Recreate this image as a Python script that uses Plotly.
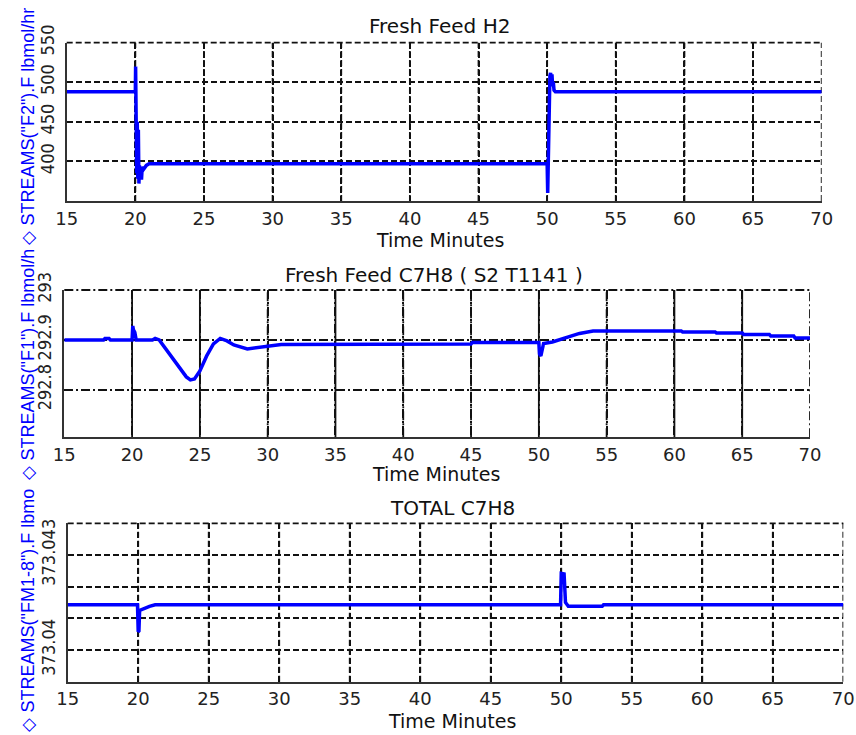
import plotly.graph_objects as go

# ---- time axis (minutes), shared tick set for all three panels ----
time_ticks = [15, 20, 25, 30, 35, 40, 45, 50, 55, 60, 65, 70]

# ---- Fresh Feed H2 : STREAMS("F2").F ----
h2_time = [15, 20.0, 20.02, 20.06, 20.1, 20.14, 20.18, 20.22, 20.26, 20.3, 20.35,
           20.4, 20.45, 20.5, 20.6, 20.8, 21.0, 21.5, 50.0, 50.04, 50.08, 50.12,
           50.16, 50.2, 50.25, 50.3, 50.35, 50.4, 50.45, 50.5, 50.6, 70]
h2_flow = [488, 488, 520, 455, 385, 450, 378, 440, 372, 395, 380,
           390, 377, 393, 390, 395, 397, 397, 397, 360, 420, 432,
           470, 508, 512, 500, 510, 495, 500, 490, 488, 488]
h2_yticks = [400, 450, 500, 550]

# ---- Fresh Feed C7H8 (S2 T1141) : STREAMS("F1").F ----
c7_time = [15, 17.9, 18.0, 18.3, 18.4, 20.0, 20.05, 20.1, 20.2, 20.3, 21.5, 21.7,
           22.0, 23.0, 24.0, 24.3, 24.6, 25.0, 25.5, 26.0, 26.5, 27.0, 27.5, 28.5,
           29.5, 30.5, 31.0, 45.0, 45.1, 50.0, 50.05, 50.15, 50.25, 50.35, 51.0,
           52.0, 53.0, 54.0, 60.5, 60.6, 63.0, 63.1, 65.0, 65.1, 67.0, 67.1,
           68.8, 68.9, 70]
c7_flow = [292.9, 292.9, 292.903, 292.903, 292.9, 292.9, 292.928, 292.92, 292.915,
           292.9, 292.9, 292.903, 292.9, 292.862, 292.826, 292.82, 292.822, 292.838,
           292.868, 292.892, 292.903, 292.898, 292.89, 292.882, 292.885, 292.889,
           292.891, 292.892, 292.895, 292.895, 292.872, 292.868, 292.878, 292.893,
           292.896, 292.905, 292.913, 292.918, 292.918, 292.916, 292.916, 292.914,
           292.914, 292.911, 292.911, 292.908, 292.908, 292.904, 292.904]
c7_yticks = [292.8, 292.9, 293.0]
c7_ytext = ["292.8", "292.9", "293"]
c7_solid_grid = [20, 25, 35, 50, 60, 65]

# ---- TOTAL C7H8 : STREAMS("FM1-8").F ----
tot_time = [15, 19.95, 20.0, 20.05, 20.1, 20.15, 20.25, 20.5, 20.8, 21.2, 49.95,
            50.0, 50.1, 50.2, 50.3, 50.5, 52.9, 53.0, 70]
tot_flow = [373.04143, 373.04143, 373.04058, 373.0406, 373.04125, 373.04126,
            373.04128, 373.04133, 373.04138, 373.04143, 373.04143, 373.04242,
            373.0424, 373.0424, 373.0415, 373.04138, 373.04138, 373.04143,
            373.04143]
tot_yticks = [373.039, 373.040, 373.041, 373.042, 373.043, 373.044]
tot_ytext = ["", "373.04", "", "", "373.043", ""]

W, H = 856, 735


def fx(px):
    return px / W


def fy(py):
    return 1 - py / H


BLUE = "#0000ff"
GRID = "#111"
TICK_FONT = dict(family="DejaVu Sans", size=18, color="#222")
YTICK_FONT = dict(family="DejaVu Sans Condensed, Liberation Sans Narrow, Arial Narrow",
                  size=18, color="#222")
TITLE_FONT = dict(family="DejaVu Sans", size=20, color="#111")
XLABEL_FONT = dict(family="DejaVu Sans", size=19, color="#111")
LABEL_FONT = dict(family="Liberation Sans, Arial", size=18, color=BLUE)

fig = go.Figure()
fig.add_trace(go.Scatter(x=h2_time, y=h2_flow, mode="lines",
                         line=dict(color=BLUE, width=3.5), xaxis="x", yaxis="y"))
fig.add_trace(go.Scatter(x=c7_time, y=c7_flow, mode="lines",
                         line=dict(color=BLUE, width=3.5), xaxis="x2", yaxis="y2"))
fig.add_trace(go.Scatter(x=tot_time, y=tot_flow, mode="lines",
                         line=dict(color=BLUE, width=3.5), xaxis="x3", yaxis="y3"))

panels = [
    # (x px left, x px right, y px top, y px bottom)
    (66.7, 821.7, 42.7, 201.0),
    (64.3, 810.0, 290.0, 437.3),
    (67.7, 843.3, 523.3, 681.7),
]


def xaxis_cfg(p, griddash):
    return dict(domain=[fx(p[0]), fx(p[1])], range=[15, 70], tickvals=time_ticks,
                showgrid=True, gridcolor=GRID, gridwidth=2, griddash=griddash,
                showline=True, linecolor="#333", linewidth=2, zeroline=False,
                ticks="", tickfont=TICK_FONT, fixedrange=True, automargin=False)


def yaxis_cfg(p, rng, tickvals, ticktext, griddash):
    return dict(domain=[fy(p[3]), fy(p[2])], range=rng, tickvals=tickvals,
                ticktext=ticktext, tickangle=-90, showgrid=True, gridcolor=GRID,
                gridwidth=1.6, griddash=griddash, showline=True, linecolor="#333",
                linewidth=2, zeroline=False, ticks="", ticklabelstandoff=4,
                tickfont=YTICK_FONT, fixedrange=True, automargin=False)


dash = "6px,3px"
dashdot = "9px,3px,2px,3px"

fig.update_layout(
    width=W, height=H, margin=dict(l=0, r=0, t=0, b=0, autoexpand=False),
    paper_bgcolor="white", plot_bgcolor="white", showlegend=False,
    xaxis=dict(anchor="y", **xaxis_cfg(panels[0], dash)),
    yaxis=dict(anchor="x", **yaxis_cfg(panels[0], [350, 550], h2_yticks,
                                       [str(v) for v in h2_yticks], dash)),
    xaxis2=dict(anchor="y2", **xaxis_cfg(panels[1], dashdot)),
    yaxis2=dict(anchor="x2", **yaxis_cfg(panels[1], [292.705, 293.0], c7_yticks,
                                         c7_ytext, dashdot)),
    xaxis3=dict(anchor="y3", **xaxis_cfg(panels[2], dash)),
    yaxis3=dict(anchor="x3", **yaxis_cfg(panels[2], [373.039, 373.044], tot_yticks,
                                         tot_ytext, dash)),
)

# dashed top and right frame edges, plus the vertical time grid of every panel
frame_dash = [dash, dashdot, dash]
for i, fd in enumerate(frame_dash):
    xa = "x" if i == 0 else f"x{i + 1}"
    ya = "y" if i == 0 else f"y{i + 1}"
    fig.add_shape(type="line", xref=f"{xa} domain", yref=f"{ya} domain",
                  x0=0, x1=1, y0=1, y1=1,
                  line=dict(color=GRID, width=1.8, dash=fd), layer="below")
    for t in time_ticks[1:]:
        solid = i == 1 and t in c7_solid_grid
        fig.add_shape(type="line", xref=xa, yref=f"{ya} domain",
                      x0=t, x1=t, y0=0, y1=1,
                      line=dict(color=GRID, width=1.8,
                                dash="solid" if solid else fd),
                      layer="below")

# panel titles
titles = [
    ("Fresh Feed H2", 440, 26),
    ("Fresh Feed C7H8 ( S2 T1141 )", 434, 275),
    ("TOTAL C7H8", 452, 508),
]
for text, px, py in titles:
    fig.add_annotation(text=text, x=fx(px), y=fy(py), xref="paper", yref="paper",
                       xanchor="center", yanchor="middle", showarrow=False,
                       font=TITLE_FONT)

# time axis labels
for px, py in [(440, 240), (436, 474), (452, 721)]:
    fig.add_annotation(text="Time Minutes", x=fx(px), y=fy(py), xref="paper",
                       yref="paper", xanchor="center", yanchor="middle",
                       showarrow=False, font=XLABEL_FONT)

# variable labels along the left edge
fig.add_annotation(text='◇ STREAMS("F2").F lbmol/hr', x=fx(27), y=fy(247),
                   xref="paper", yref="paper", xanchor="center", yanchor="bottom",
                   textangle=-90, showarrow=False, font=LABEL_FONT)
fig.add_annotation(text='◇ STREAMS("F1").F lbmol/h', x=fx(27), y=fy(482),
                   xref="paper", yref="paper", xanchor="center", yanchor="bottom",
                   textangle=-90, showarrow=False, font=LABEL_FONT)
fig.add_annotation(text='◇ STREAMS("FM1-8").F lbmo', x=fx(27), y=fy(487),
                   xref="paper", yref="paper", xanchor="center", yanchor="top",
                   textangle=-90, showarrow=False, font=LABEL_FONT)

fig.write_html("out.html")
